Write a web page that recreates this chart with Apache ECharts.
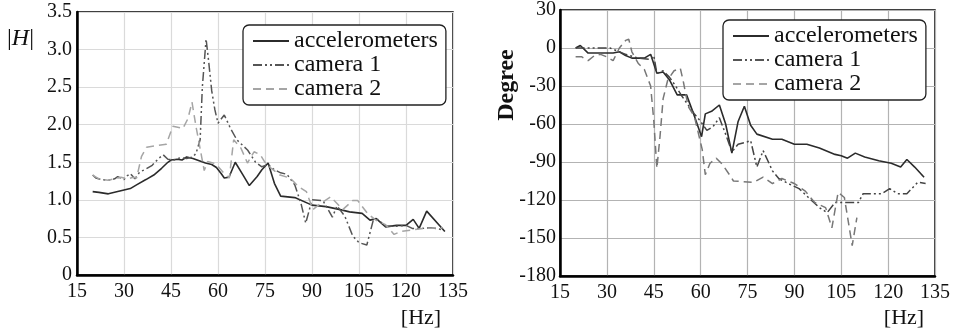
<!DOCTYPE html>
<html>
<head>
<meta charset="utf-8">
<script src="https://cdn.jsdelivr.net/npm/echarts@6/dist/echarts.min.js"></script>
<style>
  html, body { margin: 0; padding: 0; background: #fff; }
  #chart { width: 967px; height: 329px; }
</style>
</head>
<body>
<div id="chart"></div>
<script>
// frequency axis ticks (Hz)
const hzTicks = [15, 30, 45, 60, 75, 90, 105, 120, 135];

// |H| magnitude, [Hz, value]
const accMag = [[20,1.11],[22,1.10],[25,1.08],[28,1.11],[30,1.13],[32,1.15],[34,1.20],[37,1.27],[39.5,1.33],
  [42,1.42],[44,1.50],[45,1.53],[47,1.54],[48.5,1.53],[50,1.57],[52,1.55],[54,1.52],[56,1.49],[58,1.47],
  [59.5,1.43],[61,1.35],[62,1.29],[63.5,1.30],[65.5,1.50],[68,1.33],[70,1.19],[72.5,1.31],[74,1.40],
  [76,1.49],[78,1.22],[80,1.05],[84.5,1.03],[90,0.93],[94.5,0.91],[99,0.87],[102,0.84],[106,0.82],
  [108.5,0.73],[110.5,0.75],[113.5,0.64],[117,0.66],[120,0.66],[122.3,0.74],[124.2,0.62],[126.6,0.85],[132.4,0.58]];
const cam1Mag = [[20,1.33],[21,1.29],[23,1.27],[25,1.26],[27,1.28],[28,1.31],[30,1.27],[31,1.32],[32,1.35],
  [33.5,1.28],[35,1.37],[37,1.41],[39,1.46],[41,1.55],[42.5,1.60],[44,1.54],[46,1.53],[48,1.56],[50,1.55],
  [52,1.57],[53,1.62],[54.3,1.80],[55,2.50],[56.2,3.14],[57,2.85],[58,2.45],[59,2.20],[60,2.02],[62,2.13],
  [64,1.95],[66,1.80],[69.5,1.66],[72,1.50],[74,1.44],[76,1.47],[78,1.40],[80,1.36],[82,1.34],[84.5,1.20],
  [86.5,0.95],[88,0.69],[90,1.00],[93.5,0.99],[95,0.88],[96.5,0.77],[98,0.92],[100.5,0.78],[103,0.52],
  [105,0.43],[107.5,0.40],[109.5,0.72],[111,0.74],[113.5,0.65],[117,0.65],[120,0.66],[122,0.62],[125,0.62],
  [128,0.63],[132,0.60]];
const cam2Mag = [[20,1.33],[22,1.28],[25,1.26],[27,1.28],[29,1.30],[31,1.28],[33,1.30],[34,1.29],[35.6,1.58],
  [37.2,1.70],[40.3,1.72],[43.5,1.74],[45.6,1.98],[48.8,1.95],[50.4,2.08],[51.7,2.30],[53,1.97],[55.6,1.39],
  [56.7,1.51],[59.3,1.48],[62,1.35],[63.6,1.29],[65,1.80],[67.3,1.69],[69.4,1.49],[71.5,1.64],[73.5,1.60],
  [75,1.50],[77,1.42],[79.8,1.33],[83,1.29],[85.6,1.18],[88.2,1.11],[90.3,0.87],[93,0.96],[96,1.04],
  [99.8,0.87],[103,0.99],[104.6,0.99],[107.7,0.82],[110.4,0.73],[113.5,0.67],[116.2,0.54],[118.3,0.58],
  [122,0.60],[126,0.62],[131.8,0.63]];

// phase in degrees, [Hz, value]
const accPhase = [[20,0],[21.5,2],[24,-4],[28,-4],[32,-4],[34,-3],[36,-6],[38,-8],[42,-8],[44,-5],[46,-20],
  [48,-19],[50,-25],[52.5,-37],[55.5,-37],[57.6,-51],[60.3,-70],[61.5,-52],[63.5,-50],[66,-45],[68,-60],
  [70,-83],[72,-58],[74,-46],[76,-61],[78,-68],[83,-72],[86,-72],[90,-76],[94,-76],[98,-79],[103,-84],
  [105,-85],[107,-87],[109.5,-83],[112.5,-86],[117,-89],[121,-91],[124,-94],[126,-88],[128.5,-94],[131.5,-102]];
const cam1Phase = [[20,0],[22,0],[25,0],[28,0],[31,0],[33,-2],[36,-5],[40,-8],[44,-9],[45,-6],[46,-20],
  [48,-18],[50,-23],[52,-30],[54,-38],[56,-45],[58,-52],[60,-58],[62,-65],[64,-62],[66,-55],[68,-68],
  [70,-82],[72,-76],[75,-74],[76,-73],[78,-94],[80,-81],[83,-97],[85,-103],[88,-107],[91.5,-111],
  [94.5,-118],[98,-126],[100.5,-130],[103,-122],[106,-122],[110.5,-122],[112,-115],[118,-115],
  [120.5,-111],[123,-115],[126,-115],[129.5,-106],[132,-107]];
const cam2Phase = [[20,-7],[22,-7],[24,-10],[26,-6],[28,-5],[30,-7],[32,-10],[34,0],[36,6],[37,7],[38,-3],
  [40,-12],[42,-17],[44,-30],[45,-57],[46,-95],[47,-70],[48,-40],[49.5,-25],[51.5,-18],[53.5,-16],
  [54.5,-27],[56,-46],[58,-54],[60.5,-80],[61.5,-100],[63,-91],[65,-87],[67,-92],[69.5,-101],[70.5,-105],
  [77,-106],[80,-102],[83,-107],[86,-103],[90,-107],[93.5,-113],[96.5,-122],[100,-126],[102,-142],
  [104,-114],[106,-118],[108.5,-156],[110,-134]];

const serif = '"Liberation Serif", "DejaVu Serif", serif';
const chart = echarts.init(document.getElementById('chart'));

const xAxisBase = (gridIndex, gridColor) => ({
  type: 'value', gridIndex, min: hzTicks[0], max: hzTicks[hzTicks.length - 1], interval: 15,
  axisLine: { onZero: false, lineStyle: { color: '#000', width: 2.5 } },
  axisTick: { show: false },
  axisLabel: { color: '#111', fontFamily: serif, fontSize: 20, margin: 7 },
  splitLine: { lineStyle: { color: gridColor, width: 1.2 } }
});

const legendBase = (left, top) => ({
  orient: 'vertical', left, top,
  data: ['accelerometers', 'camera 1', 'camera 2'],
  itemWidth: 36, itemHeight: 14, itemGap: 0,
  padding: [4, 8, 4, 9],
  borderColor: '#222', borderWidth: 1.3, borderRadius: 6,
  backgroundColor: '#fff',
  itemStyle: { opacity: 0 },
  textStyle: { fontFamily: serif, fontSize: 24, color: '#111', lineHeight: 21 }
});

const line = (name, data, idx, color, type, width) => ({
  name, type: 'line', data, xAxisIndex: idx, yAxisIndex: idx,
  symbol: 'none', color, animation: false,
  lineStyle: { color, type, width }
});

const option = {
  backgroundColor: '#fff',
  animation: false,
  grid: [
    { left: 77, top: 12, width: 376, height: 263, show: true, borderColor: '#000', borderWidth: 1.5 },
    { left: 560, top: 10, width: 375, height: 266, show: true, borderColor: '#000', borderWidth: 1.5 }
  ],
  legend: [
    Object.assign(legendBase(243, 25), { id: 'l0' }),
    Object.assign(legendBase(723, 20), { id: 'l1' })
  ],
  xAxis: [xAxisBase(0, '#dadada'), xAxisBase(1, '#b3b3b3')],
  yAxis: [
    {
      type: 'value', gridIndex: 0, min: 0, max: 3.5, interval: 0.5,
      axisLine: { show: true, onZero: false, lineStyle: { color: '#000', width: 2.5 } },
      axisTick: { show: false },
      axisLabel: { color: '#111', fontFamily: serif, fontSize: 20, margin: 5,
        formatter: v => (v === 0 ? '0' : v.toFixed(1)) },
      splitLine: { lineStyle: { color: '#dadada', width: 1.2 } }
    },
    {
      type: 'value', gridIndex: 1, min: -180, max: 30, interval: 30,
      axisLine: { show: true, onZero: false, lineStyle: { color: '#000', width: 2.5 } },
      axisTick: { show: false },
      axisLabel: { color: '#111', fontFamily: serif, fontSize: 20, margin: 4 },
      splitLine: { lineStyle: { color: '#b3b3b3', width: 1.2 } }
    }
  ],
  graphic: [
    { type: 'text', left: 7, top: 27, style: {
        text: '{a||}{b|H}{a||}', fill: '#111',
        rich: { a: { fontFamily: serif, fontSize: 24 }, b: { fontFamily: serif, fontSize: 24, fontStyle: 'italic' } } } },
    { type: 'text', x: 421, y: 318, style: { text: '[Hz]', fontFamily: serif, fontSize: 22, fill: '#111',
        align: 'center', verticalAlign: 'middle' } },
    { type: 'text', x: 904, y: 318, style: { text: '[Hz]', fontFamily: serif, fontSize: 22, fill: '#111',
        align: 'center', verticalAlign: 'middle' } },
    { type: 'text', x: 507, y: 85, rotation: Math.PI / 2, style: { text: 'Degree', fontFamily: serif,
        fontSize: 24, fontWeight: 'bold', fill: '#111', align: 'center', verticalAlign: 'middle' } }
  ],
  series: [
    line('accelerometers', accMag, 0, '#2b2b2b', 'solid', 1.6),
    line('camera 1', cam1Mag, 0, '#555', [9, 3, 2, 3, 2, 3], 1.5),
    line('camera 2', cam2Mag, 0, '#a5a5a5', [8, 5], 1.5),
    line('accelerometers', accPhase, 1, '#2b2b2b', 'solid', 1.6),
    line('camera 1', cam1Phase, 1, '#444', [9, 3, 2, 3, 2, 3], 1.5),
    line('camera 2', cam2Phase, 1, '#777', [8, 5], 1.5)
  ]
};

chart.setOption(option);
</script>
</body>
</html>
